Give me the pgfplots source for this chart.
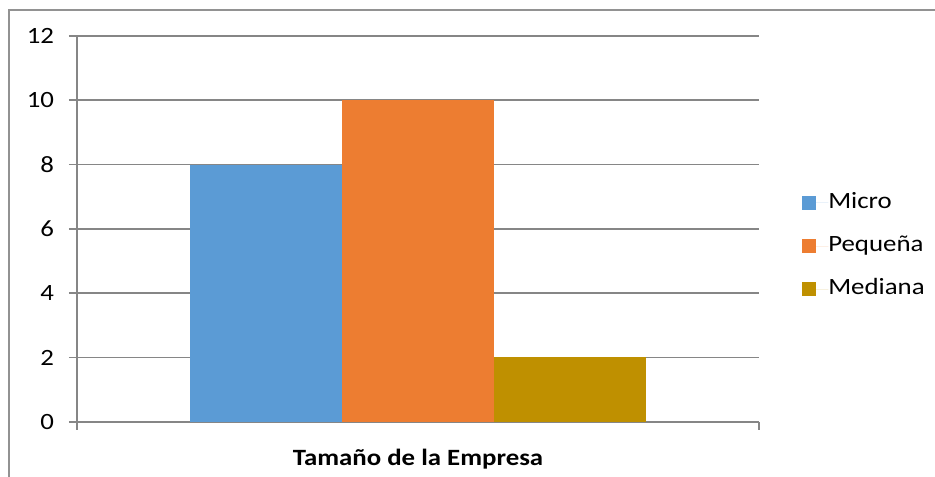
\documentclass[border=0pt]{standalone}
\usepackage{fontspec}
\setmainfont{Carlito}[FakeStretch=1.15]
\usepackage{pgfplots}
\pgfplotsset{compat=1.18}
\definecolor{cMicro}{HTML}{5B9BD5}
\definecolor{cPeq}{HTML}{ED7D31}
\definecolor{cMed}{HTML}{BF9000}
\definecolor{cLine}{HTML}{868686}
\newcommand{\chartfont}{\fontsize{17.5}{21}\selectfont}
\begin{document}
\begin{tikzpicture}
\path[use as bounding box] (0,0) rectangle (701.25pt,-357pt);
\draw[cLine!90, line width=1.4pt] (6.75pt,-370pt) -- (6.75pt,-7.5pt) -- (720pt,-7.5pt);
\begin{axis}[
  at={(57.75pt,-316.3pt)}, anchor=south west,
  scale only axis, width=511.5pt, height=289.3pt,
  xmin=0, xmax=1, ymin=0, ymax=12,
  ytick={0,2,...,12}, xtick={0,1}, xticklabels={},
  axis lines*=left,
  axis line style={cLine, line width=1.2pt},
  tick style={cLine, line width=1.2pt},
  tick align=outside, major tick length=6pt,
  ymajorgrids, grid style={cLine, line width=1.2pt},
  /pgf/number format/assume math mode=true,
  ticklabel style={font=\chartfont},
  yticklabel style={inner sep=0pt, xshift=-11pt},
  ybar=0pt, bar width=114pt,
  xlabel={\textbf{Tamaño de la Empresa}},
  xlabel style={font=\chartfont, at={(axis description cs:0.5,0)}, anchor=north, inner sep=0pt, yshift=-20pt},
  legend style={draw=none, fill=none, at={(1,0.4555)}, anchor=west, xshift=32.25pt,
    font=\chartfont, inner sep=0pt, row sep=16.5pt,
    nodes={inner sep=0pt, text height=12pt, text depth=4pt}},
  legend cell align=left,
  legend image code/.code={\path (0,0) -- (19.5pt,0); \fill[#1, draw=none] (0,-5.25pt) rectangle (10.5pt,5.25pt);},
]
\addplot[fill=cMicro, draw=none] coordinates {(0.5,8)};
\addplot[fill=cPeq, draw=none] coordinates {(0.5,10)};
\addplot[fill=cMed, draw=none] coordinates {(0.5,2)};
\legend{Micro, Pequeña, Mediana}
\end{axis}
\end{tikzpicture}
\end{document}
